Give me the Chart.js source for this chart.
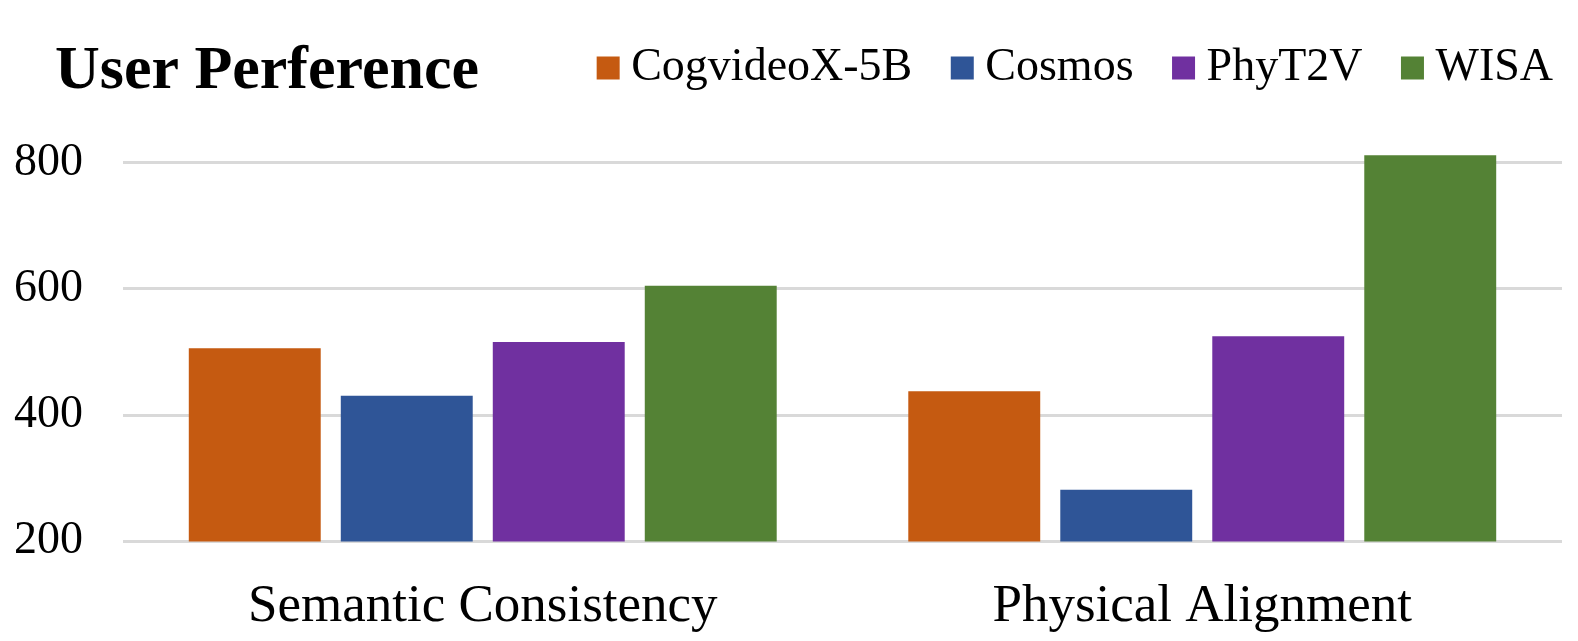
<!DOCTYPE html>
<html>
<head>
<meta charset="utf-8">
<script src="https://cdn.jsdelivr.net/npm/chart.js@4"></script>
<style>
  html, body { margin: 0; padding: 0; background: #fff; }
  #wrap { width: 1578px; height: 641px; }
</style>
</head>
<body>
<div id="wrap"><canvas id="prefChart"></canvas></div>
<script>
const categories = ['Semantic Consistency', 'Physical Alignment'];
const cogvideo = [506, 438];
const cosmos = [431, 282];
const phyt2v = [516, 525];
const wisa = [605, 812];
const yTicks = [200, 400, 600, 800];

const FONT = '"Liberation Serif", "Times New Roman", serif';

// draws the bold title in the top-left corner and nudges the legend
const titleAndLegend = {
  id: 'titleAndLegend',
  afterLayout(chart) {
    const lg = chart.legend;
    const w = lg.right - lg.left;
    lg.right = chart.width + 25;
    lg.left = lg.right - w;
    lg.top -= 5;
  },
  afterDraw(chart) {
    const ctx = chart.ctx;
    ctx.save();
    ctx.font = 'bold 62px ' + FONT;
    ctx.fillStyle = '#000';
    ctx.textBaseline = 'alphabetic';
    ctx.textAlign = 'left';
    ctx.fillText('User Perference', 55, 88);
    ctx.restore();
  }
};

const ctx = document.getElementById('prefChart');

new Chart(ctx, {
  type: 'bar',
  data: {
    labels: categories,
    datasets: [
      { label: 'CogvideoX-5B', data: cogvideo, backgroundColor: '#C55A11' },
      { label: 'Cosmos', data: cosmos, backgroundColor: '#2F5597' },
      { label: 'PhyT2V', data: phyt2v, backgroundColor: '#7030A0' },
      { label: 'WISA', data: wisa, backgroundColor: '#548235' }
    ]
  },
  options: {
    responsive: true,
    maintainAspectRatio: false,
    animation: false,
    categoryPercentage: 0.845,
    barPercentage: 0.868,
    layout: {
      padding: { left: -26, right: 16, top: 0, bottom: 0 }
    },
    plugins: {
      legend: {
        position: 'top',
        align: 'end',
        labels: {
          color: '#000',
          font: { family: FONT, size: 46 },
          usePointStyle: true,
          pointStyle: 'rect',
          boxWidth: 0.01,
          boxHeight: 23,
          padding: 50
        }
      },
      tooltip: { enabled: false }
    },
    scales: {
      x: {
        grid: { display: false, drawTicks: true, tickLength: 32 },
        border: { display: false },
        ticks: {
          color: '#000',
          font: { family: FONT, size: 53 },
          padding: 2
        }
      },
      y: {
        min: 200,
        max: 890,
        border: { display: false },
        grid: { color: '#D9D9D9', lineWidth: 3, drawTicks: false },
        afterBuildTicks: axis => {
          axis.ticks = yTicks.map(v => ({ value: v }));
        },
        ticks: {
          color: '#000',
          font: { family: FONT, size: 46 },
          padding: 40
        }
      }
    }
  },
  plugins: [titleAndLegend]
});
</script>
</body>
</html>
